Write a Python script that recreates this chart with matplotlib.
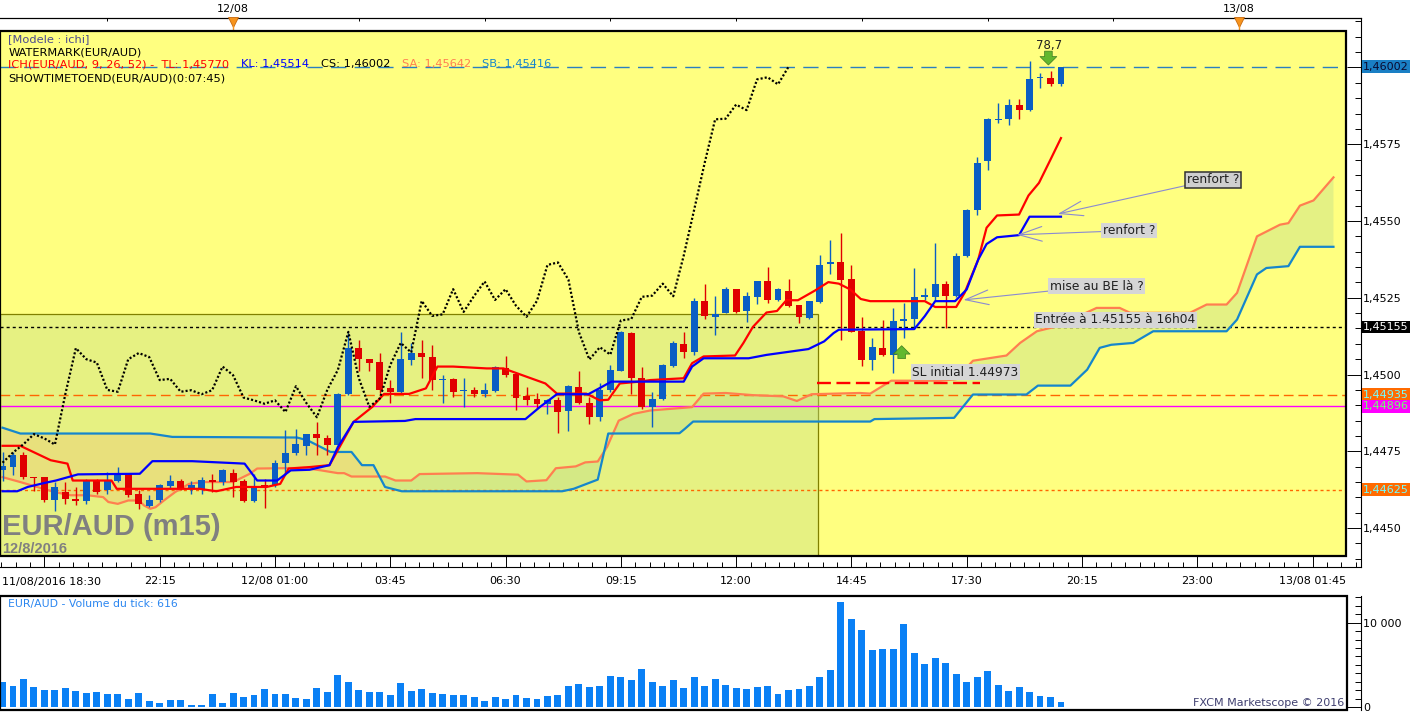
import numpy as np
import matplotlib
matplotlib.use("Agg")
import matplotlib.pyplot as plt
import matplotlib.transforms as mtransforms
from matplotlib.patches import Rectangle
from matplotlib.ticker import MultipleLocator

plt.rcParams['font.family'] = ['DejaVu Sans']
plt.rcParams['lines.scale_dashes'] = False

# EUR/AUD m15, bars from 11/08/2016 18:30 to 12/08/2016 19:45
opens = [1.44688, 1.44699, 1.44737, 1.44668, 1.44666, 1.44590, 1.44618, 1.44596, 1.44587, 1.44658,
         1.44623, 1.44653, 1.44675, 1.44610, 1.44571, 1.44590, 1.44636, 1.44655, 1.44628, 1.44628,
         1.44658, 1.44650, 1.44681, 1.44655, 1.44587, 1.44641, 1.44639, 1.44712, 1.44745, 1.44768,
         1.44805, 1.44795, 1.44770, 1.44937, 1.45086, 1.45050, 1.45042, 1.44955, 1.44944, 1.45048,
         1.45070, 1.45057, 1.44982, 1.44984, 1.44945, 1.44949, 1.44936, 1.44947, 1.45020, 1.45002,
         1.44930, 1.44920, 1.44903, 1.44916, 1.44881, 1.44959, 1.44908, 1.44861, 1.44949, 1.45013,
         1.45136, 1.44988, 1.44895, 1.44922, 1.45028, 1.45101, 1.45072, 1.45238, 1.45188, 1.45202,
         1.45278, 1.45207, 1.45254, 1.45303, 1.45243, 1.45273, 1.45226, 1.45185, 1.45237, 1.45361,
         1.45366, 1.45312, 1.45141, 1.45049, 1.45087, 1.45065, 1.45176, 1.45181, 1.45253, 1.45253,
         1.45296, 1.45255, 1.45385, 1.45535, 1.45695, 1.45828, 1.45831, 1.45879, 1.45861, 1.45964,
         1.45966, 1.45945]
highs = [1.44748, 1.44748, 1.44748, 1.44668, 1.44668, 1.44650, 1.44650, 1.44634, 1.44661, 1.44661,
         1.44683, 1.44699, 1.44677, 1.44623, 1.44607, 1.44644, 1.44672, 1.44661, 1.44655, 1.44666,
         1.44677, 1.44694, 1.44694, 1.44661, 1.44677, 1.44661, 1.44721, 1.44819, 1.44824, 1.44808,
         1.44846, 1.44803, 1.44939, 1.45135, 1.45113, 1.45050, 1.45070, 1.44982, 1.45140, 1.45102,
         1.45113, 1.45097, 1.44998, 1.44988, 1.44988, 1.44960, 1.44971, 1.45028, 1.45061, 1.45004,
         1.44960, 1.44940, 1.44922, 1.44927, 1.44966, 1.45010, 1.44927, 1.44971, 1.45031, 1.45141,
         1.45138, 1.45023, 1.44944, 1.45035, 1.45108, 1.45138, 1.45248, 1.45295, 1.45256, 1.45284,
         1.45278, 1.45270, 1.45306, 1.45350, 1.45281, 1.45311, 1.45226, 1.45240, 1.45388, 1.45438,
         1.45461, 1.45358, 1.45188, 1.45119, 1.45179, 1.45217, 1.45233, 1.45347, 1.45282, 1.45427,
         1.45306, 1.45396, 1.45539, 1.45709, 1.45836, 1.45885, 1.45896, 1.45898, 1.46021, 1.45983,
         1.45988, 1.46002]
lows = [1.44655, 1.44672, 1.44661, 1.44620, 1.44585, 1.44557, 1.44577, 1.44574, 1.44579, 1.44612,
        1.44612, 1.44650, 1.44601, 1.44563, 1.44568, 1.44585, 1.44628, 1.44623, 1.44612, 1.44612,
        1.44618, 1.44639, 1.44601, 1.44585, 1.44585, 1.44566, 1.44634, 1.44672, 1.44737, 1.44737,
        1.44737, 1.44737, 1.44764, 1.44933, 1.45010, 1.45010, 1.44941, 1.44908, 1.44939, 1.45031,
        1.44988, 1.44950, 1.44907, 1.44927, 1.44895, 1.44927, 1.44927, 1.44944, 1.44993, 1.44883,
        1.44900, 1.44889, 1.44872, 1.44809, 1.44817, 1.44905, 1.44839, 1.44850, 1.44944, 1.45010,
        1.44936, 1.44889, 1.44828, 1.44916, 1.45024, 1.45053, 1.45064, 1.45180, 1.45130, 1.45199,
        1.45202, 1.45171, 1.45229, 1.45232, 1.45240, 1.45221, 1.45169, 1.45182, 1.45234, 1.45328,
        1.45114, 1.45138, 1.45029, 1.45014, 1.45060, 1.45005, 1.45119, 1.45152, 1.45244, 1.45244,
        1.45152, 1.45253, 1.45382, 1.45519, 1.45665, 1.45820, 1.45814, 1.45831, 1.45858, 1.45934,
        1.45939, 1.45939]
closes = [1.44702, 1.44737, 1.44666, 1.44663, 1.44590, 1.44634, 1.44596, 1.44588, 1.44655, 1.44618,
          1.44655, 1.44677, 1.44607, 1.44577, 1.44590, 1.44639, 1.44655, 1.44628, 1.44639, 1.44658,
          1.44650, 1.44688, 1.44650, 1.44587, 1.44637, 1.44637, 1.44713, 1.44746, 1.44773, 1.44806,
          1.44792, 1.44772, 1.44937, 1.45086, 1.45050, 1.45039, 1.44950, 1.44944, 1.45050, 1.45070,
          1.45057, 1.44982, 1.44986, 1.44944, 1.44949, 1.44936, 1.44949, 1.45026, 1.44998, 1.44925,
          1.44916, 1.44905, 1.44916, 1.44878, 1.44962, 1.44907, 1.44861, 1.44951, 1.45015, 1.45139,
          1.44988, 1.44895, 1.44922, 1.45031, 1.45103, 1.45072, 1.45240, 1.45191, 1.45196, 1.45278,
          1.45204, 1.45256, 1.45303, 1.45243, 1.45278, 1.45224, 1.45188, 1.45240, 1.45357, 1.45365,
          1.45309, 1.45138, 1.45049, 1.45089, 1.45065, 1.45176, 1.45181, 1.45253, 1.45257, 1.45296,
          1.45255, 1.45387, 1.45537, 1.45689, 1.45831, 1.45833, 1.45879, 1.45861, 1.45961, 1.45968,
          1.45945, 1.46002]
volumes = [2960, 2490, 3320, 2370, 2010, 2010, 2250, 1900, 1660, 1780,
           1540, 1540, 950, 1660, 710, 470, 830, 830, 240, 240,
           1540, 470, 1660, 1190, 1420, 2130, 1540, 1540, 1070, 950,
           2250, 1780, 3790, 2960, 2010, 1780, 1780, 1420, 2840, 1900,
           2130, 1660, 1540, 1420, 1420, 1190, 710, 1190, 950, 1420,
           1070, 950, 1300, 1420, 2490, 2730, 2370, 2490, 3670, 3560,
           3200, 4500, 2960, 2490, 3200, 2250, 3560, 2490, 3320, 2610,
           2250, 2130, 2370, 2490, 1540, 2010, 2130, 2490, 3560, 4380,
           12440, 10430, 9120, 6750, 6870, 6870, 9840, 6400, 5100, 5810,
           5210, 3910, 2960, 3560, 4270, 2610, 1900, 2370, 1780, 1300,
           1190, 616]

# Ichimoku lines (bar index, price)
tenkan_x = [0, 1.7, 4.6, 6.2, 6.7, 10.4, 10.9, 18.8, 20.4, 22.3, 25.2, 26.5, 27.3, 29.4, 31.2, 33.5,
            35.3, 36.4, 38.8, 40.4, 41.5, 43.0, 46.2, 47.8, 51.8, 52.9, 55.7, 57.0, 57.8, 58.9, 60.8,
            61.8, 65.0, 65.8, 66.9, 69.9, 70.7, 71.6, 72.9, 73.9, 74.8, 75.9, 77.5, 78.8, 79.8, 80.9,
            81.9, 82.8, 88.0, 89.0, 91.0, 91.8, 93.1, 93.9, 94.9, 97.0, 97.9, 98.9, 100.0, 101.0]
tenkan_y = [1.44768, 1.44768, 1.44721, 1.44710, 1.44655, 1.44655, 1.44628, 1.44628, 1.44620, 1.44634,
            1.44634, 1.44644, 1.44694, 1.44699, 1.44705, 1.44846, 1.44895, 1.44937, 1.44937, 1.44955,
            1.45026, 1.45026, 1.45020, 1.45020, 1.44971, 1.44938, 1.44938, 1.44916, 1.44918, 1.44971,
            1.44977, 1.44982, 1.44988, 1.45037, 1.45059, 1.45062, 1.45103, 1.45155, 1.45202, 1.45207,
            1.45242, 1.45242, 1.45273, 1.45301, 1.45296, 1.45277, 1.45246, 1.45239, 1.45239, 1.45220,
            1.45220, 1.45266, 1.45374, 1.45478, 1.45518, 1.45521, 1.45583, 1.45624, 1.45700, 1.45770]
kijun_x = [0, 1.4, 2.4, 4.0, 5.1, 7.2, 13.1, 14.3, 18.1, 23.1, 24.3, 26.2, 27.5, 29.3, 31.2, 32.0,
           33.5, 38.4, 39.4, 49.9, 51.3, 52.9, 55.9, 57.2, 58.1, 65.0, 65.8, 66.9, 71.2, 72.9, 76.9,
           78.4, 79.3, 79.8, 87.0, 88.0, 89.0, 90.9, 92.0, 93.1, 93.9, 94.9, 97.0, 98.0, 101.0]
kijun_y = [1.44620, 1.44620, 1.44634, 1.44647, 1.44655, 1.44675, 1.44677, 1.44718, 1.44718, 1.44710,
           1.44655, 1.44655, 1.44688, 1.44690, 1.44705, 1.44764, 1.44846, 1.44849, 1.44855, 1.44855,
           1.44895, 1.44936, 1.44936, 1.44960, 1.44977, 1.44977, 1.45026, 1.45053, 1.45053, 1.45064,
           1.45083, 1.45108, 1.45135, 1.45146, 1.45148, 1.45190, 1.45239, 1.45239, 1.45277, 1.45374,
           1.45425, 1.45447, 1.45454, 1.45514, 1.45514]
ssa_x = [0, 1.7, 3.3, 4.9, 6.5, 8.1, 9.6, 10.1, 11.0, 12.0, 13.0, 13.5, 14.1, 14.6, 15.4, 16.5, 17.8,
         19.1, 22.0, 23.6, 24.3, 28.8, 30.4, 32.0, 32.6, 33.3, 36.5, 37.5, 39.0, 39.8, 45.3, 49.2, 50.0,
         51.9, 52.8, 54.7, 55.6, 56.8, 57.7, 58.8, 60.2, 61.8, 65.8, 66.9, 69.0, 71.6, 74.5, 75.8, 77.2,
         81.8, 82.8, 84.8, 89.5, 91.0, 92.6, 95.8, 97.1, 98.7, 100.6, 104.4, 106.6, 107.6, 113.3,
         114.9, 116.8, 117.8, 118.7, 119.7, 121.9, 122.7, 123.8, 125.1, 127.0]
ssa_y = [1.44666, 1.44650, 1.44634, 1.44618, 1.44607, 1.44607, 1.44601, 1.44585, 1.44579, 1.44590,
         1.44590, 1.44574, 1.44563, 1.44568, 1.44590, 1.44618, 1.44644, 1.44650, 1.44650, 1.44677,
         1.44694, 1.44696, 1.44688, 1.44679, 1.44679, 1.44668, 1.44668, 1.44655, 1.44655, 1.44676,
         1.44679, 1.44674, 1.44652, 1.44656, 1.44695, 1.44701, 1.44714, 1.44717, 1.44765, 1.44850,
         1.44872, 1.44883, 1.44894, 1.44938, 1.44940, 1.44933, 1.44929, 1.44914, 1.44936, 1.44940,
         1.44938, 1.44980, 1.44980, 1.44985, 1.45045, 1.45062, 1.45103, 1.45141, 1.45157, 1.45217,
         1.45217, 1.45201, 1.45201, 1.45228, 1.45228, 1.45266, 1.45353, 1.45450, 1.45488, 1.45493,
         1.45550, 1.45567, 1.45642]
ssb_x = [0, 1.7, 14.1, 16.2, 28.1, 29.1, 31.3, 33.3, 34.3, 35.4, 36.5, 38.1, 53.4, 54.5, 56.8, 57.8,
         64.6, 65.1, 65.9, 82.8, 83.2, 90.8, 92.6, 97.7, 98.8, 101.9, 103.5, 104.7, 105.8, 107.9,
         109.8, 116.8, 117.8, 119.7, 120.6, 122.7, 123.8, 127.0]
ssb_y = [1.44827, 1.44808, 1.44808, 1.44797, 1.44795, 1.44786, 1.44748, 1.44748, 1.44705, 1.44705,
         1.44634, 1.44620, 1.44620, 1.44628, 1.44658, 1.44808, 1.44809, 1.44823, 1.44847, 1.44847,
         1.44855, 1.44859, 1.44935, 1.44935, 1.44964, 1.44964, 1.45016, 1.45087, 1.45097, 1.45103,
         1.45141, 1.45141, 1.45179, 1.45326, 1.45347, 1.45353, 1.45416, 1.45416]
chikou_shift = 26

# horizontal levels
level_last = 1.46002
level_entry = 1.45155
level_orange = 1.44935
level_magenta = 1.44896
level_low = 1.44625
sl_price = 1.44973
sl_bars = [77.7, 93.3]
zone_end_bar = 77.8
zone_top = 1.45196

time_ticks = [4, 15, 26, 37, 48, 59, 70, 81, 92, 103, 114, 125]
time_labels = ['', '22:15', '12/08 01:00', '03:45', '06:30', '09:15', '12:00', '14:45',
               '17:30', '20:15', '23:00', '13/08 01:45']
day_ticks = [10, 22, 34, 46, 58, 70, 82, 94, 106, 118]
day_labels = ['', '12/08', '', '', '', '', '', '', '', '13/08']
price_ticks = [1.4450, 1.4475, 1.4500, 1.4525, 1.4550, 1.4575, 1.4600]

# ---- layout (pixels of the 1418x712 image) ----
W, H = 1418, 712
BAR0, BARW = 2.5, 10.48
REF_PY, KPX = 406.5, 3.256e-5


def i_at(px):
    return (px - BAR0) / BARW


def p_at(py):
    return level_magenta + (REF_PY - py) * KPX


def v_at(py):
    return (707 - py) / 84.3 * 10000


def px_axes(x0, y0, x1, y1):
    return fig.add_axes([x0 / W, 1 - y1 / H, (x1 - x0) / W, (y1 - y0) / H])


def ftext(px, py, s, **kw):
    kw.setdefault('fontsize', 8.2)
    kw.setdefault('va', 'center')
    return fig.text(px / W, 1 - py / H, s, **kw)


BLUE_C = '#0a5ec4'
RED_C = '#e00000'

fig = plt.figure(figsize=(W / 100, H / 100), dpi=100)
fig.patch.set_facecolor('white')

# ---- main price panel ----
ax = px_axes(0, 18.3, 1360.5, 566.7)
x_left, x_right = i_at(0), i_at(1360.5)
ax.set_xlim(x_left, x_right)
ax.set_ylim(p_at(566.7), p_at(18.3))
ax.set_facecolor('white')
ax.spines['left'].set_visible(False)
for s in ['top', 'right', 'bottom']:
    ax.spines[s].set_linewidth(0.8)

frame_r = i_at(1346)
p_bot, p_top = p_at(556), p_at(31)
frame = Rectangle((x_left, p_bot), frame_r - x_left, p_top - p_bot, fc='#ffff80', ec='none', zorder=0.1)
ax.add_patch(frame)
ax.add_patch(Rectangle((x_left, p_bot), frame_r - x_left, p_top - p_bot, fill=False, ec='black',
                       lw=1.6, zorder=20, clip_on=False))

clipped = []
zone = Rectangle((x_left, p_bot), zone_end_bar - x_left, zone_top - p_bot, fc='#e6f182', ec='#808000',
                 lw=0.9, zorder=0.3)
ax.add_patch(zone)
clipped.append(zone)

# cloud
grid = np.union1d(ssa_x, ssb_x)
a = np.interp(grid, ssa_x, ssa_y)
b = np.interp(grid, ssb_x, ssb_y)
clipped.append(ax.fill_between(grid, a, b, where=a >= b, interpolate=True, color='#b8dc8c', alpha=0.38,
                               lw=0, zorder=0.5))
clipped.append(ax.fill_between(grid, a, b, where=a < b, interpolate=True, color='#f0a868', alpha=0.22,
                               lw=0, zorder=0.5))

# horizontal levels
xs = [x_left, frame_r]
clipped += ax.plot(xs, [level_last] * 2, color='#2a7fc0', lw=1.0, ls=(0, (11, 6)), zorder=1.5)
clipped += ax.plot(xs, [level_entry] * 2, color='black', lw=1.0, ls=(0, (2.2, 2.2)), zorder=1.5)
clipped += ax.plot(xs, [level_orange] * 2, color='#ff6600', lw=1.0, ls=(0, (7, 3.5)), zorder=1.5)
clipped += ax.plot(xs, [level_magenta] * 2, color='#ff00ff', lw=1.0, zorder=1.5)
clipped += ax.plot(xs, [level_low] * 2, color='#ff6600', lw=1.0, ls=(0, (2.2, 2.2)), zorder=1.5)

# ichimoku lines
clipped += ax.plot(ssa_x, ssa_y, color='#ff7f50', lw=1.6, zorder=3)
clipped += ax.plot(ssb_x, ssb_y, color='#1586cc', lw=1.6, zorder=3)

# candles
idx = np.arange(len(closes))
o, h, l, c = map(np.array, (opens, highs, lows, closes))
cols = np.where(c >= o, BLUE_C, RED_C)
clipped.append(ax.vlines(idx, l, h, colors=cols, lw=1.0, zorder=4))
bars = ax.bar(idx, np.maximum(np.abs(c - o), 0.00005), bottom=np.minimum(o, c), width=0.66,
              color=cols, lw=0, zorder=4.5)
clipped += list(bars.patches)

clipped += ax.plot(tenkan_x, tenkan_y, color='#ff0000', lw=1.6, zorder=5)
clipped += ax.plot(kijun_x, kijun_y, color='#0000ff', lw=1.6, zorder=5)

# chikou span
clipped += ax.plot(idx[chikou_shift:] - chikou_shift, c[chikou_shift:], color='black', lw=1.6,
                   ls=(0, (1.5, 1.5)), zorder=6)

# initial stop
clipped += ax.plot(sl_bars, [sl_price] * 2, color='#ff0000', lw=1.7, ls=(0, (10, 4)), zorder=6)

for art in clipped:
    art.set_clip_path(frame)

# axes ticks
ax.yaxis.tick_right()
ax.set_yticks(price_ticks)
ax.set_yticklabels([('%.4f' % p).replace('.', ',') if p < 1.46 else '' for p in price_ticks])
ax.yaxis.set_minor_locator(MultipleLocator(0.0005))
ax.tick_params(axis='y', which='major', direction='in', length=10, width=0.7, pad=2, labelsize=8)
ax.tick_params(axis='y', which='minor', direction='in', length=4, width=0.7)
ax.set_xticks(time_ticks)
ax.set_xticklabels(time_labels)
ax.xaxis.set_minor_locator(MultipleLocator(1.375, offset=4))
ax.tick_params(axis='x', which='major', direction='in', length=8, width=0.7, pad=7, labelsize=8)
ax.tick_params(axis='x', which='minor', direction='in', length=3.6, width=0.7)
ftext(2, 582, '11/08/2016 18:30', fontsize=8)

top = ax.secondary_xaxis('top')
top.set_xticks(day_ticks)
top.set_xticklabels(day_labels)
top.tick_params(axis='x', direction='in', length=2.5, width=0.7, pad=3, labelsize=8)
top.spines['top'].set_linewidth(0.8)
day_marks = [22, 118]
ax.plot(day_marks, [p_at(22.3)] * 2, ls='none', marker='v', ms=7, color='#f7941d', mec='#c86a10',
        mew=0.6, clip_on=False, zorder=15)
ax.vlines(day_marks, p_at(31), p_at(25), colors='#f7941d', lw=1.0, clip_on=False, zorder=15)

# right side value tags
tag = mtransforms.blended_transform_factory(ax.transAxes, ax.transData)
tags = [(level_last, '#1a7fc4', '#0a0a30'), (level_entry, 'black', 'white'),
        (level_orange, '#ff6a00', '#70ffff'), (level_magenta, '#ff00ff', '#70ff70'),
        (level_low, '#ff6a00', '#70ffff')]
for val, bg, fg in tags:
    ax.text(1363 / 1360.5, val, ('%.5f' % val).replace('.', ','), transform=tag, ha='left',
            va='center', fontsize=8, color=fg, clip_on=False, zorder=25,
            bbox=dict(boxstyle='square,pad=0.12', fc=bg, ec='none'))

# chart annotations
box = dict(boxstyle='square,pad=0.12', fc='#d6d6d6', ec='none')
arr = dict(arrowstyle='->,head_length=1.9,head_width=0.6', color='#8a8ad2', lw=0.8, shrinkA=0, shrinkB=0)
ax.annotate('renfort ?', xy=(100.7, 1.45523), xytext=(115.5, 1.45635), ha='center', va='center',
            fontsize=8.8, color='#202020', zorder=9,
            bbox=dict(boxstyle='square,pad=0.12', fc='#cfcfcf', ec='#303030', lw=1.1), arrowprops=arr)
ax.annotate('renfort ?', xy=(96.8, 1.45455), xytext=(107.5, 1.45469), ha='center', va='center',
            fontsize=8.8, color='#202020', zorder=9, bbox=box, arrowprops=arr)
ax.annotate('mise au BE là ?', xy=(91.7, 1.45243), xytext=(104.4, 1.45288), ha='center', va='center',
            fontsize=8.8, color='#202020', zorder=9, bbox=box, arrowprops=arr)
ax.text(106.2, 1.45178, 'Entrée à 1.45155 à 16h04', ha='center', va='center', fontsize=8.8,
        color='#202020', zorder=9, bbox=box)
ax.text(91.9, 1.45008, 'SL initial 1.44973', ha='center', va='center', fontsize=8.8,
        color='#202020', zorder=9, bbox=box)

green = dict(arrowstyle='simple,head_length=0.55,head_width=1.1,tail_width=0.5', fc='#62b82e',
             ec='#3d7a1f', lw=0.5, shrinkA=0, shrinkB=0, mutation_scale=11)
ax.annotate('', xy=(85.8, 1.45094), xytext=(85.8, 1.45052), arrowprops=green, zorder=9)
ax.annotate('', xy=(99.8, 1.46008), xytext=(99.8, 1.46053), arrowprops=green, zorder=9)
ax.text(99.9, 1.46072, '78,7', ha='center', va='center', fontsize=8.5, color='#202020', zorder=9)

# watermark and legend
ftext(2, 535, 'EUR/AUD (m15)', fontsize=21, fontweight='bold', color='#808080',
      family='Liberation Sans', va='baseline')
ftext(2, 552.7, '12/8/2016', fontsize=10.5, fontweight='bold', color='#808080',
      family='Liberation Sans', va='baseline')
ftext(8.4, 39.3, '[Modele : ichi]', color='#4b4b8f')
ftext(8.4, 52.3, 'WATERMARK(EUR/AUD)', color='black')
ftext(8.4, 64.5, 'ICH(EUR/AUD, 9, 26, 52) -  TL: 1,45770', color='#ff0000')
ftext(240.6, 64.5, 'KL: 1,45514', color='#0000ff')
ftext(321, 64.5, 'CS: 1,46002', color='black')
ftext(402.3, 64.5, 'SA: 1,45642', color='#ff7f50')
ftext(482, 64.5, 'SB: 1,45416', color='#1586cc')
ftext(8.4, 78.5, 'SHOWTIMETOEND(EUR/AUD)(0:07:45)', color='black')

# ---- volume panel ----
vax = px_axes(0, 595.7, 1360.5, 710)
vax.set_xlim(x_left, x_right)
vax.set_ylim(v_at(710), v_at(595.7))
for s in ['left', 'top', 'bottom']:
    vax.spines[s].set_visible(False)
vax.spines['right'].set_linewidth(0.8)
vframe = Rectangle((0, 0), 1346.8 / 1360.5, 1, transform=vax.transAxes, fc='white', ec='none', zorder=0.1)
vax.add_patch(vframe)
vax.add_patch(Rectangle((0, 0), 1346.8 / 1360.5, 1, transform=vax.transAxes, fill=False, ec='black',
                        lw=1.6, zorder=20, clip_on=False))
vbars = vax.bar(idx, volumes, width=0.66, color='#0a80f5', lw=0, zorder=2)
for p in vbars.patches:
    p.set_clip_path(vframe)
vax.set_xticks([])
vax.yaxis.tick_right()
vax.set_yticks([0, 10000])
vax.set_yticklabels(['0', '10 000'])
vax.yaxis.set_minor_locator(MultipleLocator(1000))
vax.tick_params(axis='y', which='major', direction='in', length=10, width=0.7, pad=2, labelsize=8)
vax.tick_params(axis='y', which='minor', direction='in', length=4, width=0.7)

ftext(8.4, 604, 'EUR/AUD - Volume du tick: 616', fontsize=7.8, color='#2b86f0')
ftext(1344, 703, 'FXCM Marketscope © 2016', fontsize=8, color='#404070', ha='right')

fig.savefig('out.png', dpi=100)
